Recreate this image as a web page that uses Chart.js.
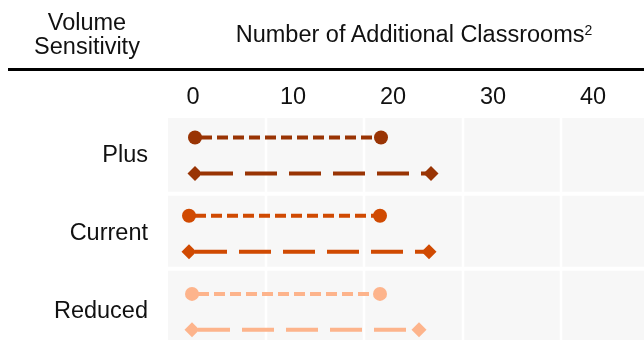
<!DOCTYPE html>
<html>
<head>
<meta charset="utf-8">
<script src="https://cdn.jsdelivr.net/npm/chart.js@4.4.1/dist/chart.umd.min.js"></script>
<style>
  body { margin: 0; background: #fff; }
  #wrap { position: relative; width: 644px; height: 340px; overflow: hidden; font-family: "Liberation Sans", Arial, sans-serif; color: #111; }
  #chart { position: absolute; left: 0; top: 0; }
  .head { position: absolute; font-size: 23.5px; text-align: center; white-space: nowrap; }
  #rule { position: absolute; left: 8px; top: 68px; width: 636px; height: 3px; background: #000; }
</style>
</head>
<body>
<div id="wrap">
  <canvas id="chart" width="644" height="340"></canvas>
  <div class="head" style="left:0; width:174px; top:10px; line-height:24px;">Volume<br>Sensitivity</div>
  <div class="head" style="left:200px; width:428px; top:22px; line-height:24px;">Number of Additional Classrooms<span style="font-size:14px; vertical-align:7px; line-height:0;">2</span></div>
  <div id="rule"></div>
</div>
<script>
// rows top to bottom
const rows = ['Plus', 'Current', 'Reduced'];
// short-dash series (circles)
const dotStart = [0.2, -0.4, -0.1];
const dotEnd = [18.8, 18.7, 18.7];
// long-dash series (diamonds)
const dashStart = [0.2, -0.4, -0.1];
const dashEnd = [23.8, 23.6, 22.6];
const xTicks = [0, 10, 20, 30, 40];
const colors = ['#993404', '#d04a02', '#fdb48c'];

// table cell borders
const colBreaks = [7.3, 17.1, 27.0, 36.8];
const rowBreaks = [0.49, 1.45];

const rowOffset = 0.23;
const font = { family: '"Liberation Sans", Arial, sans-serif', size: 23.5 };

const datasets = [];
rows.forEach((r, i) => {
  datasets.push({
    label: r + ' low',
    data: [{ x: dotStart[i], y: i - rowOffset }, { x: dotEnd[i], y: i - rowOffset }],
    borderColor: colors[i],
    backgroundColor: colors[i],
    borderWidth: 4,
    borderDash: [11, 5],
    borderDashOffset: 10,
    pointStyle: 'circle',
    pointRadius: 7,
    pointBorderWidth: 0,
    clip: false
  });
  datasets.push({
    label: r + ' high',
    data: [{ x: dashStart[i], y: i + rowOffset }, { x: dashEnd[i], y: i + rowOffset }],
    borderColor: colors[i],
    backgroundColor: colors[i],
    borderWidth: 4,
    borderDash: [32, 12],
    borderDashOffset: 38,
    pointStyle: 'rectRot',
    pointRadius: 7.5,
    pointBorderWidth: 0,
    clip: false
  });
});

const cellBackground = {
  id: 'cellBackground',
  beforeDraw(chart) {
    const { ctx, chartArea: a, scales } = chart;
    ctx.save();
    ctx.fillStyle = '#f7f7f7';
    ctx.fillRect(a.left, a.top, a.right - a.left, a.bottom - a.top);
    ctx.strokeStyle = '#ffffff';
    ctx.lineWidth = 2.5;
    colBreaks.forEach(v => {
      const x = scales.x.getPixelForValue(v);
      ctx.beginPath();
      ctx.moveTo(x, a.top);
      ctx.lineTo(x, a.bottom);
      ctx.stroke();
    });
    ctx.lineWidth = 4;
    rowBreaks.forEach(v => {
      const y = scales.y.getPixelForValue(v);
      ctx.beginPath();
      ctx.moveTo(a.left, y);
      ctx.lineTo(a.right, y);
      ctx.stroke();
    });
    ctx.restore();
  }
};

new Chart(document.getElementById('chart'), {
  type: 'line',
  data: { datasets },
  options: {
    responsive: false,
    animation: false,
    devicePixelRatio: 1,
    layout: { autoPadding: false, padding: { top: 72, left: 0, right: 0, bottom: 0 } },
    plugins: { legend: { display: false }, tooltip: { enabled: false } },
    scales: {
      x: {
        type: 'linear',
        position: 'top',
        min: -2.5,
        max: 45.1,
        afterFit: s => { s.height = 46; s.paddingLeft = 0; s.paddingRight = 0; },
        afterBuildTicks: s => { s.ticks = xTicks.map(v => ({ value: v })); },
        grid: { display: false, drawTicks: false },
        border: { display: false },
        ticks: { font, color: '#111', padding: 6, maxRotation: 0, autoSkip: false }
      },
      y: {
        type: 'linear',
        reverse: true,
        min: -0.48,
        max: 2.36,
        afterFit: s => { s.width = 168; s.paddingTop = 0; s.paddingBottom = 0; },
        afterBuildTicks: s => { s.ticks = rows.map((r, i) => ({ value: i })); },
        grid: { display: false, drawTicks: false },
        border: { display: false },
        ticks: { font, color: '#111', padding: 20, callback: v => rows[v] }
      }
    }
  },
  plugins: [cellBackground]
});
</script>
</body>
</html>
